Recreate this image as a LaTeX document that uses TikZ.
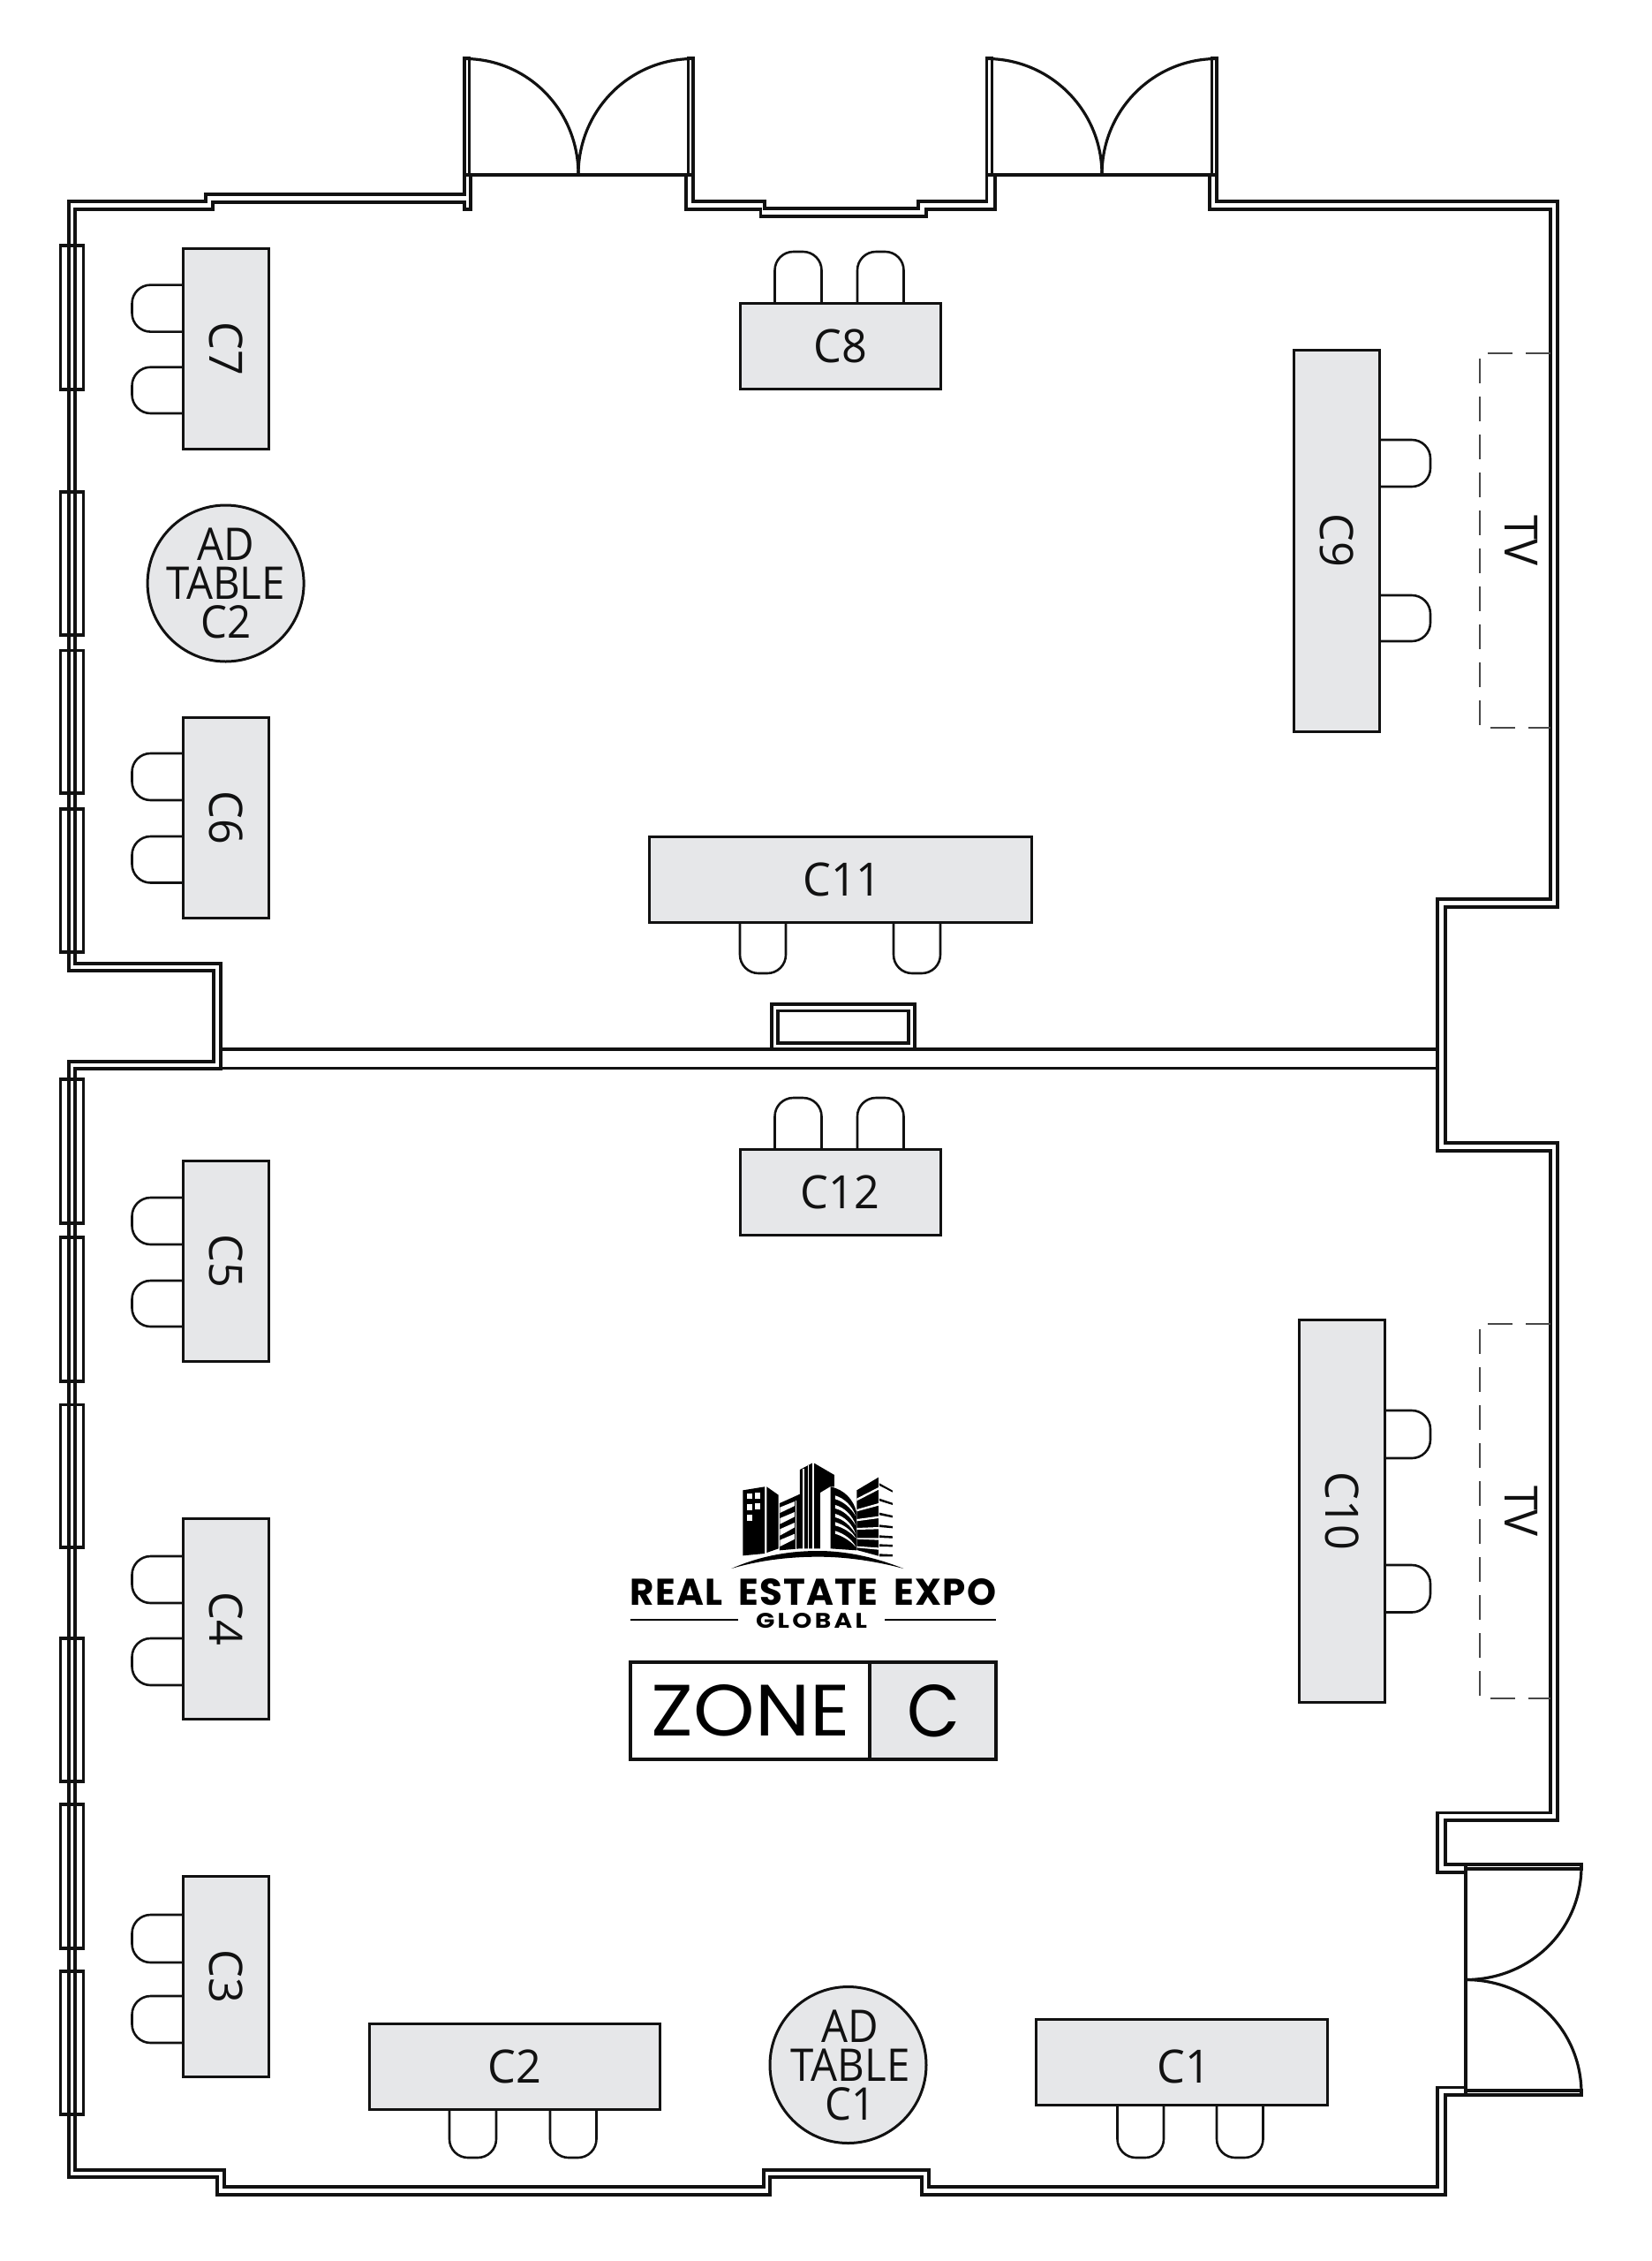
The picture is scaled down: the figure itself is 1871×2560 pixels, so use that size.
\documentclass[tikz,border=0pt]{standalone}
\usepackage{fontspec}
\usepackage{graphicx}
\setmainfont[FakeStretch=0.97]{Open Sans}
\newfontfamily\adfont[FakeStretch=0.93]{Open Sans}
\newfontfamily\popreg{Poppins}
\definecolor{tablegray}{HTML}{E6E7E9}
\definecolor{ink}{HTML}{111111}
\tikzset{
  wall/.style={draw=ink, line width=3.4pt, line join=miter},
  winbox/.style={draw=ink, line width=3.4pt},
  chairline/.style={draw=ink, line width=2.6pt, rounded corners=21pt},
  tbl/.style={draw=ink, fill=tablegray, line width=3pt, inner sep=0pt, outer sep=0pt, font=\fontsize{52}{44}\selectfont, text=ink},
  longv/.style={tbl, rotate=-90, minimum width=227pt, minimum height=97pt},
  longh/.style={tbl, minimum width=227pt, minimum height=97pt},
  adcircle/.style={tbl, circle, minimum size=177pt},
  adtext/.style={inner sep=0pt, align=center, text=ink, font=\adfont\fontsize{51}{44}\selectfont},
  tvzone/.style={draw=black!72, line width=1.9pt, dash pattern=on 28pt off 15pt},
  swing/.style={draw=ink, line width=3.2pt},
  logoblack/.style={fill=black, draw=none},
  logowhite/.style={fill=white, draw=none},
}
\newcommand\chairW[3]{\draw[chairline] (#1,#2) -- (#1-58,#2) -- (#1-58,#3) -- (#1,#3);}
\newcommand\chairE[3]{\draw[chairline] (#1,#2) -- (1620,#2) -- (1620,#3) -- (#1,#3);}
\newcommand\chairN[3]{\draw[chairline] (#1,#3) -- (#1,#3-58) -- (#2,#3-58) -- (#2,#3);}
\newcommand\chairS[4]{\draw[chairline] (#1,#3) -- (#1,#4) -- (#2,#4) -- (#2,#3);}
\begin{document}
\begin{tikzpicture}[x=1pt,y=-1pt]
\useasboundingbox (0,0) rectangle (1871,2560);
\fill[white] (0,0) rectangle (1871,2560);

% walls
\draw[wall] (526,198) -- (526,220) -- (233,220) -- (233,228) -- (78,228) -- (78,1099) -- (242,1099) -- (242,1202) -- (78,1202) -- (78,2465) -- (246,2465) -- (246,2485) -- (872,2485) -- (872,2465) -- (1044,2465) -- (1044,2485) -- (1637,2485) -- (1637,2372) -- (1660,2372);
\draw[wall] (533,198) -- (533,237) -- (526,237) -- (526,229) -- (241,229) -- (241,237) -- (85,237) -- (85,1091) -- (250,1091) -- (250,1210) -- (85,1210) -- (85,2457) -- (254,2457) -- (254,2476) -- (865,2476) -- (865,2457) -- (1052,2457) -- (1052,2476) -- (1628,2476) -- (1628,2363.5) -- (1660,2363.5);
\draw[wall] (785,198) -- (785,228) -- (866,228) -- (866,236) -- (1040,236) -- (1040,228) -- (1117.5,228) -- (1117.5,198);
\draw[wall] (777,198) -- (777,237) -- (861.5,237) -- (861.5,245) -- (1049,245) -- (1049,237) -- (1127,237) -- (1127,198);
\draw[wall] (1378,198) -- (1378,228) -- (1764,228) -- (1764,1027) -- (1637,1027) -- (1637,1294) -- (1764,1294) -- (1764,2061) -- (1637,2061) -- (1637,2111) -- (1660,2111);
\draw[wall] (1370,198) -- (1370,237) -- (1756,237) -- (1756,1018) -- (1628,1018) -- (1628,1303) -- (1756,1303) -- (1756,2052.5) -- (1628,2052.5) -- (1628,2120) -- (1660,2120);
% partition and pillar
\draw[wall] (250,1188) -- (1628,1188);
\draw[wall] (250,1209.5) -- (1628,1209.5);
\draw[wall] (874,1188) -- (874,1137) -- (1036,1137) -- (1036,1188);
\draw[wall, line width=3.8pt] (881,1144.5) rectangle (1029,1181);

% windows
\foreach \ya/\yb in {278/441,557/719,736.5/898,916/1078,1222/1385,1401/1564,1590.5/1752,1855/2017,2043/2206,2232/2394}
  \draw[winbox] (68.5,\ya) rectangle (94.5,\yb);

% double doors, top
\draw[wall] (526,198) -- (526,66) -- (531.5,66) -- (531.5,198);
\draw[wall] (785,198) -- (785,66) -- (779.5,66) -- (779.5,198);
\draw[wall, line width=4pt] (526,197.5) -- (785,197.5);
\draw[swing] (526,66.5) .. controls (598,66.5) and (655,125) .. (655,197.5);
\draw[swing] (785,66.5) .. controls (713,66.5) and (655,125) .. (655,197.5);
\draw[wall] (1117.5,198) -- (1117.5,66) -- (1123.5,66) -- (1123.5,198);
\draw[wall] (1378,198) -- (1378,66) -- (1372.5,66) -- (1372.5,198);
\draw[wall, line width=4pt] (1117.5,197.5) -- (1378,197.5);
\draw[swing] (1117.5,66.5) .. controls (1189.5,66.5) and (1248,125) .. (1248,197.5);
\draw[swing] (1378,66.5) .. controls (1306,66.5) and (1248,125) .. (1248,197.5);
% double door, right
\draw[wall] (1660,2111) -- (1660,2372);
\draw[wall] (1660,2111) -- (1791,2111) -- (1791,2116) -- (1660,2116);
\draw[wall] (1660,2372) -- (1791,2372) -- (1791,2367) -- (1660,2367);
\draw[swing] (1791,2113) .. controls (1791,2185) and (1733,2241.5) .. (1660,2241.5);
\draw[swing] (1791,2370) .. controls (1791,2298) and (1733,2241.5) .. (1660,2241.5);

% TV zones
\draw[tvzone] (1756,400) -- (1676,400) -- (1676,824) -- (1756,824);
\draw[tvzone] (1756,1499) -- (1676,1499) -- (1676,1923) -- (1756,1923);
\node[rotate=-90, font=\fontsize{52}{44}\selectfont, text=ink, inner sep=0pt] (tvone) at (1723,612) {TV};
\node[rotate=-90, font=\fontsize{52}{44}\selectfont, text=ink, inner sep=0pt] (tvtwo) at (1723,1711) {TV};

% chairs
\chairW{207.5}{322.6}{375.6}\chairW{207.5}{415.7}{468}
\chairW{207.5}{853}{906}\chairW{207.5}{947}{999.5}
\chairW{207.5}{1356}{1409}\chairW{207.5}{1450}{1502}
\chairW{207.5}{1762}{1815}\chairW{207.5}{1855}{1908}
\chairW{207.5}{2168}{2222}\chairW{207.5}{2260}{2313}
\chairN{877.5}{930.5}{343}\chairN{971}{1023.5}{343}
\chairN{877.5}{930.5}{1301}\chairN{971}{1023.5}{1301}
\chairE{1563}{498}{551}\chairE{1563}{674}{726}
\chairE{1569}{1597}{1651}\chairE{1569}{1772}{1825.5}
\chairS{838}{890}{1044}{1102}\chairS{1012}{1065}{1044}{1102}
\chairS{509}{562}{2389}{2443}\chairS{623}{675.5}{2389}{2443}
\chairS{1265.5}{1318}{2383}{2443}\chairS{1378}{1430.5}{2383}{2443}

% tables
\node[longv] (C7) at (255.7,394.5) {C7};
\node[longv] (C6) at (255.7,925.5) {C6};
\node[longv] (C5) at (255.7,1428) {C5};
\node[longv] (C4) at (255.7,1833) {C4};
\node[longv] (C3) at (255.7,2238) {C3};
\node[longh] (C8) at (951.5,392) {C8};
\node[longh] (C12) at (951.5,1350) {C12};
\node[tbl, rotate=-90, minimum width=432pt, minimum height=97pt] (C9) at (1514,612) {C9};
\node[tbl, rotate=-90, minimum width=433pt, minimum height=97pt] (C10) at (1520,1711) {C10};
\node[tbl, minimum width=433pt, minimum height=97pt] (C11) at (951.5,995.5) {};
\node[inner sep=0pt, text=ink, font=\fontsize{52}{44}\selectfont] (C11label) at (954,995.5) {C11};
\node[tbl, minimum width=329pt, minimum height=97pt] (C2) at (583,2340) {C2};
\node[tbl, minimum width=330pt, minimum height=97pt] (C1) at (1338,2335) {};
\node[inner sep=0pt, text=ink, font=\fontsize{52}{44}\selectfont] (C1label) at (1341,2340) {C1};
\node[adcircle] (ad2) at (255.6,660.5) {};
\node[adtext] (ad2label) at (255.6,660.5) {AD\\TABLE\\C2};
\node[adcircle] (ad1) at (960.5,2338) {};
\node[adtext] (ad1label) at (963,2338) {AD\\TABLE\\C1};

% logo buildings (drawn in 3x coordinates of the mark)
\begin{scope}[shift={(780,1640)}, x=0.3333pt, y=-0.3333pt]
  \fill[logoblack] (184,142) -- (258,130) -- (258,357) -- (184,364) -- cycle;
  \fill[logowhite] (198,153) rectangle (217,172);
  \fill[logowhite] (225,150) rectangle (244,170);
  \fill[logowhite] (198,190) rectangle (216,210);
  \fill[logowhite] (225,186) rectangle (244,206);
  \fill[logowhite] (198,226) rectangle (216,246);
  \fill[logoblack] (265,130) -- (305,158) -- (305,340) -- (265,354) -- cycle;
  \fill[logoblack] (309,186) -- (378,155) -- (378,340) -- (309,346) -- cycle;
  \fill[logowhite] (310,200) -- (360,180) -- (360,195) -- (310,219) -- cycle;
  \fill[logowhite] (310,237) -- (360,216) -- (360,232) -- (310,257) -- cycle;
  \fill[logowhite] (310,274) -- (360,252) -- (360,268) -- (310,296) -- cycle;
  \fill[logowhite] (310,311) -- (360,290) -- (360,308) -- (310,333) -- cycle;
  \fill[logowhite] (362,178) rectangle (366,342);
  \fill[logoblack] (378,72) -- (423,48) -- (495,90) -- (495,130) -- (480,130) -- (447,150) -- (447,340) -- (378,340) -- cycle;
  \fill[logowhite] (388,68) rectangle (392,342);
  \fill[logowhite] (404,58) rectangle (408,342);
  \fill[logowhite] (419,48) rectangle (425,342);
  \fill[logoblack] (482,130) .. controls (530,140) and (560,175) .. (570,215) -- (570,346) -- (482,340) -- cycle;
  \fill[logowhite] (498,160) .. controls (530,170) and (555,195) .. (568,230) .. controls (550,200) and (525,180) .. (498,172) -- cycle;
  \fill[logowhite] (498,192) .. controls (530,202) and (555,225) .. (568,262) .. controls (550,232) and (525,210) .. (498,204) -- cycle;
  \fill[logowhite] (498,222) .. controls (530,232) and (555,255) .. (568,292) .. controls (550,262) and (525,240) .. (498,234) -- cycle;
  \fill[logowhite] (498,250) .. controls (530,260) and (555,280) .. (568,305) .. controls (550,285) and (525,268) .. (498,262) -- cycle;
  \fill[logowhite] (498,280) .. controls (530,290) and (555,310) .. (568,334) .. controls (550,315) and (525,298) .. (498,290) -- cycle;
  \fill[logoblack] (571,142) -- (645,98) -- (645,365) -- (571,345) -- cycle;
  \fill[logowhite] (571,170) -- (645,132) -- (645,140) -- (571,178) -- cycle;
  \fill[logowhite] (571,207) -- (645,186) -- (645,194) -- (571,214) -- cycle;
  \fill[logowhite] (571,240) -- (645,230) -- (645,237) -- (571,247) -- cycle;
  \fill[logowhite] (571,270) -- (645,267) -- (645,274) -- (571,276) -- cycle;
  \fill[logowhite] (571,304) -- (645,304) -- (645,311) -- (571,308) -- cycle;
  \fill[logowhite] (571,332) -- (645,337) -- (645,344) -- (571,337) -- cycle;
  \fill[logoblack] (648,118) -- (693,143) -- (693,149) -- (648,126) -- cycle;
  \fill[logoblack] (648,170) -- (693,185) -- (693,192) -- (648,178) -- cycle;
  \fill[logoblack] (648,218) -- (693,228) -- (693,235) -- (648,226) -- cycle;
  \fill[logoblack] (648,259) -- (693,264) -- (693,271) -- (648,267) -- cycle;
  \fill[logoblack] (648,295) -- (693,298) -- (693,305) -- (648,303) -- cycle;
  \fill[logoblack] (648,325) -- (693,327) -- (693,334) -- (648,333) -- cycle;
  \fill[logoblack] (648,358) -- (693,360) -- (693,367) -- (648,367) -- cycle;
  \fill[logoblack] (145,408) .. controls (250,362) and (350,348) .. (440,348) .. controls (540,348) and (640,372) .. (730,408) .. controls (640,384) and (540,368) .. (440,368) .. controls (340,368) and (240,380) .. (145,408) -- cycle;
\end{scope}

% logo text
\node[inner sep=0pt, text=black] (brand) at (921,1803) {\resizebox{414pt}{30pt}{\popreg\bfseries\addfontfeature{LetterSpace=3}REAL\hspace{0.42em}ESTATE\hspace{0.42em}EXPO}};
\node[inner sep=0pt, text=black] (global) at (919,1835) {\resizebox{126pt}{17pt}{\popreg\bfseries\addfontfeature{LetterSpace=12}GLOBAL}};
\coordinate (ruleAa) at (714,1834);
\coordinate (ruleAb) at (836,1834);
\coordinate (ruleBa) at (1002,1834);
\coordinate (ruleBb) at (1128,1834);
\draw[black, line width=2.2pt] (ruleAa) -- (ruleAb);
\draw[black, line width=2.2pt] (ruleBa) -- (ruleBb);

% zone plate
\node[draw=ink, fill=white, line width=3.6pt, inner sep=0pt, minimum width=271pt, minimum height=110pt] (zoneleft) at (849.5,1937) {};
\node[draw=ink, fill=tablegray, line width=3.6pt, inner sep=0pt, minimum width=143pt, minimum height=110pt] (zoneright) at (1056.5,1937) {};
\node[inner sep=0pt, text=black] (zonetext) at (850.5,1937) {\resizebox{225pt}{58pt}{\popreg ZONE}};
\node[inner sep=0pt, text=black] (zonec) at (1057,1937) {\resizebox{60pt}{59pt}{\popreg C}};
\end{tikzpicture}
\end{document}
